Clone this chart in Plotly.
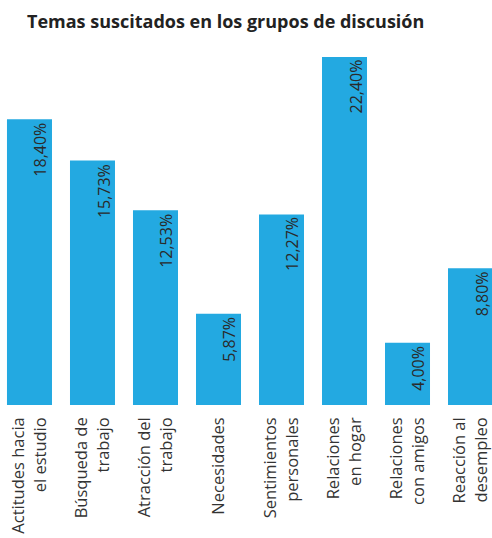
import plotly.graph_objects as go

categories = ["Actitudes hacia<br>el estudio", "Búsqueda de<br>trabajo", "Atracción del<br>trabajo",
              "Necesidades", "Sentimientos<br>personales", "Relaciones<br>en hogar",
              "Relaciones<br>con amigos", "Reacción al<br>desempleo"]
values = [18.40, 15.73, 12.53, 5.87, 12.27, 22.40, 4.00, 8.80]
value_labels = ["18,40%", "15,73%", "12,53%", "5,87%", "12,27%", "22,40%", "4,00%", "8,80%"]

BAR = "#23A9E1"
TXT = "#2a2a2a"
FONT = "Open Sans"

fig = go.Figure(go.Bar(
    x=list(range(len(categories))), y=values,
    marker=dict(color=BAR, line=dict(width=0)),
    hoverinfo="skip",
))

for i, (v, t) in enumerate(zip(values, value_labels)):
    fig.add_annotation(x=i, y=v, text=t, showarrow=False, textangle=-90,
                       xanchor="right", yanchor="top", xshift=24, yshift=-1,
                       font=dict(family=FONT, size=16, color=TXT))

fig.update_layout(
    width=492, height=538,
    margin=dict(l=0, r=0, t=57, b=133, autoexpand=False),
    paper_bgcolor="white", plot_bgcolor="white",
    bargap=0.2857,
    showlegend=False,
    hovermode=False,
    title=dict(text="<b>Temas suscitados en los grupos de discusión</b>",
               x=27/492, xanchor="left", y=1-22/538, yanchor="middle",
               font=dict(family=FONT, size=18, color="#222222")),
    xaxis=dict(range=[-0.468, 7.341], tickmode="array", automargin=False,
               tickvals=list(range(len(categories))), ticktext=categories,
               tickangle=-90, showgrid=False, zeroline=False, showline=False,
               ticks="", ticklabelstandoff=8, fixedrange=True,
               tickfont=dict(family=FONT, size=16.5, color="#333333")),
    yaxis=dict(range=[0, 22.4], visible=False, showgrid=False, zeroline=False,
               automargin=False, fixedrange=True),
)

fig.write_html("out.html", config={"displayModeBar": False, "staticPlot": True},
               post_script="document.body.style.margin='0';document.body.style.overflow='hidden';")
